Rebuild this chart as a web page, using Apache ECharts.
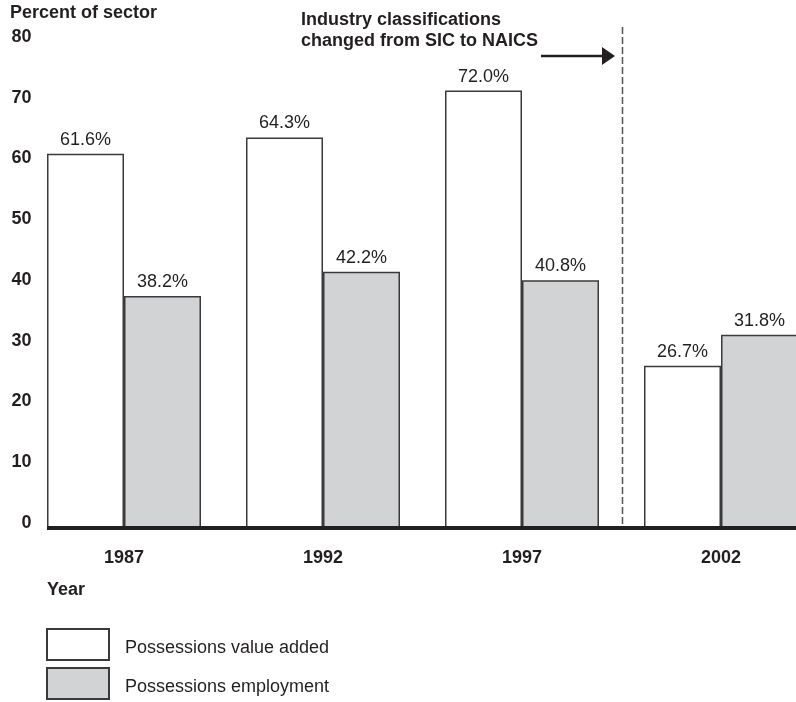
<!DOCTYPE html>
<html>
<head>
<meta charset="utf-8">
<script src="https://cdn.jsdelivr.net/npm/echarts@6/dist/echarts.min.js"></script>
<style>
html,body{margin:0;padding:0;background:#fff;}
#chart{width:796px;height:702px;}
</style>
</head>
<body>
<div id="chart"></div>
<script>
var years = ['1987', '1992', '1997', '2002'];
var valueAdded = [61.6, 64.3, 72.0, 26.7];
var employment = [38.2, 42.2, 40.8, 31.8];
var yTicks = [0, 10, 20, 30, 40, 50, 60, 70, 80];
var seriesNames = ['Possessions value added', 'Possessions employment'];

var FONT = '"Liberation Sans", Arial, Helvetica, sans-serif';
var INK = '#231f20';
var BAR_W = 77;

var chart = echarts.init(document.getElementById('chart'), null, {renderer: 'canvas'});

function barLabel() {
  return {
    show: true, position: 'top', distance: 5,
    fontFamily: FONT, fontSize: 18, color: INK,
    formatter: function (p) { return p.value.toFixed(1) + '%'; }
  };
}

var option = {
  animation: false,
  backgroundColor: '#ffffff',
  grid: {left: 24.5, right: -24.5, top: 42, bottom: 174, containLabel: false, outerBoundsMode: 'none'},
  xAxis: {
    type: 'category',
    data: years,
    axisLine: {show: false},
    axisTick: {show: false},
    axisLabel: {fontFamily: FONT, fontSize: 18, fontWeight: 'bold', color: INK, margin: 21},
    splitLine: {show: false}
  },
  yAxis: {
    type: 'value',
    min: yTicks[0], max: yTicks[yTicks.length - 1], interval: 10,
    axisLine: {show: false},
    axisTick: {show: false},
    splitLine: {show: false},
    axisLabel: {
      fontFamily: FONT, fontSize: 18, fontWeight: 'bold', color: INK,
      align: 'right', margin: -7, verticalAlign: 'bottom', lineHeight: 10
    }
  },
  legend: {
    orient: 'vertical',
    left: 46, top: 628,
    padding: 0,
    itemWidth: 62, itemHeight: 31,
    itemGap: 6,
    icon: 'rect',
    selectedMode: false,
    data: seriesNames,
    formatter: function (name) { return '{t|' + name + '}'; },
    textStyle: {
      fontFamily: FONT, fontSize: 18, color: INK, padding: [0, 0, 0, 11],
      rich: {t: {fontFamily: FONT, fontSize: 18, color: INK, padding: [7, 0, 0, 0]}}
    }
  },
  series: [
    {
      name: seriesNames[0], type: 'bar', data: valueAdded,
      barWidth: BAR_W, barGap: '0%',
      itemStyle: {color: '#ffffff', borderColor: '#3a3a3a', borderWidth: 1.5},
      label: barLabel()
    },
    {
      name: seriesNames[1], type: 'bar', data: employment,
      barWidth: BAR_W, barGap: '0%',
      itemStyle: {color: '#d1d3d4', borderColor: '#3a3a3a', borderWidth: 1.5},
      label: barLabel()
    }
  ]
};
chart.setOption(option);

// annotations placed from the library's own scales
var y0 = chart.convertToPixel({yAxisIndex: 0}, 0);
var xFirst = chart.convertToPixel({xAxisIndex: 0}, 0) - BAR_W;
var x97 = chart.convertToPixel({xAxisIndex: 0}, 2);
var x02 = chart.convertToPixel({xAxisIndex: 0}, 3);
var xDash = (x97 + x02) / 2 + 1;

chart.setOption({
  graphic: [
    {type: 'line', z: 100, shape: {x1: xFirst, y1: y0, x2: 796, y2: y0},
     style: {stroke: INK, lineWidth: 4}},
    {type: 'line', z: 50, shape: {x1: xDash, y1: 27, x2: xDash, y2: y0 - 2},
     style: {stroke: '#555555', lineWidth: 1.5, lineDash: [7, 3]}},
    {type: 'line', shape: {x1: 541, y1: 56, x2: 604, y2: 56},
     style: {stroke: INK, lineWidth: 2.5}},
    {type: 'polygon', shape: {points: [[602, 47], [615, 56], [602, 65]]},
     style: {fill: INK}},
    {type: 'text', left: 10, top: 4,
     style: {text: 'Percent of sector', fontFamily: FONT, fontSize: 18, fontWeight: 'bold', fill: INK}},
    {type: 'text', left: 301, top: 10,
     style: {text: 'Industry classifications\nchanged from SIC to NAICS', fontFamily: FONT, fontSize: 18,
             fontWeight: 'bold', fill: INK, lineHeight: 21}},
    {type: 'text', left: 47, top: 581,
     style: {text: 'Year', fontFamily: FONT, fontSize: 18, fontWeight: 'bold', fill: INK}}
  ]
});
</script>
</body>
</html>
